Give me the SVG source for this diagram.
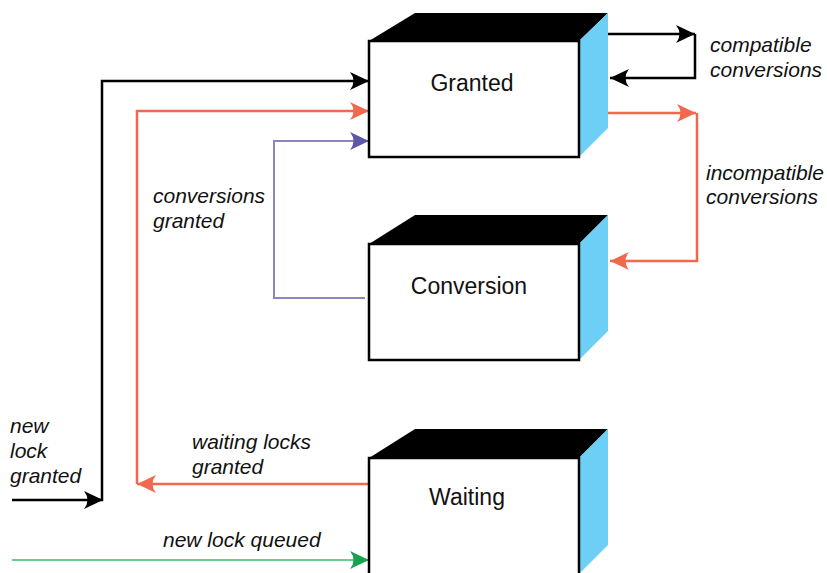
<svg xmlns="http://www.w3.org/2000/svg" width="827" height="573" viewBox="0 0 827 573">
<style>
.front{fill:#fff;stroke:#000;stroke-width:2.5}
.top{fill:#000}
.side{fill:#6DCFF6}
.name{font-family:"Liberation Sans",Arial,sans-serif;font-size:23px;fill:#111;text-anchor:middle}
.lbl{font-family:"Liberation Sans",Arial,sans-serif;font-size:21px;font-style:italic;fill:#111}
.c{fill:none}
.k{stroke:#000;stroke-width:2.5}
.o{stroke:#F0694E;stroke-width:2.5}
.p{stroke:#8A86C6;stroke-width:2}
.g{stroke:#6CCB8C;stroke-width:2}
</style>
<defs>
<marker id="ak" viewBox="0 0 20 20" refX="19" refY="10" markerWidth="20" markerHeight="20" markerUnits="userSpaceOnUse" orient="auto"><path d="M19,10 L0,1 Q7,10 0,19 Z" fill="#000"/></marker>
<marker id="ao" viewBox="0 0 20 20" refX="19" refY="10" markerWidth="20" markerHeight="20" markerUnits="userSpaceOnUse" orient="auto"><path d="M19,10 L0,1 Q7,10 0,19 Z" fill="#F0694E"/></marker>
<marker id="ap" viewBox="0 0 20 20" refX="19" refY="10" markerWidth="20" markerHeight="20" markerUnits="userSpaceOnUse" orient="auto"><path d="M19,10 L0,1 Q7,10 0,19 Z" fill="#5B58A8"/></marker>
<marker id="ag" viewBox="0 0 20 20" refX="19" refY="10" markerWidth="20" markerHeight="20" markerUnits="userSpaceOnUse" orient="auto"><path d="M19,10 L0,1 Q7,10 0,19 Z" fill="#1AA150"/></marker>
</defs>
<g id="connectors" class="c">
<path class="k" d="M12,500 H103" marker-end="url(#ak)"/>
<path class="k" d="M102,501 V81 H369" marker-end="url(#ak)"/>
<path class="o" d="M369,484 H137" marker-end="url(#ao)"/>
<path class="o" d="M137,484 V111 H369" marker-end="url(#ao)"/>
<path class="p" d="M365,298 H274 V141 H369" marker-end="url(#ap)"/>
<path class="k" d="M608,34 H695" marker-end="url(#ak)"/>
<path class="k" d="M695,34 V78 H610" marker-end="url(#ak)"/>
<path class="o" d="M608,113 H696" marker-end="url(#ao)"/>
<path class="o" d="M697,113 V261 H610" marker-end="url(#ao)"/>
<path class="g" d="M12,560 H369" marker-end="url(#ag)"/>
</g>
<g id="granted">
<polygon class="top" points="369,41 415,13 608,13 579,41"/>
<polygon class="side" points="579,41 608,13 608,128 579,157"/>
<rect class="front" x="369" y="41" width="210" height="116"/>
<text class="name" x="472" y="91">Granted</text>
</g>
<g id="conversion">
<polygon class="top" points="369,244 415,215 608,215 579,244"/>
<polygon class="side" points="579,244 608,215 608,331 579,360"/>
<rect class="front" x="369" y="244" width="210" height="116"/>
<text class="name" x="469" y="294">Conversion</text>
</g>
<g id="waiting">
<polygon class="top" points="369,458 415,429 608,429 579,458"/>
<polygon class="side" points="579,458 608,429 608,545 579,574"/>
<rect class="front" x="369" y="458" width="210" height="120"/>
<text class="name" x="467" y="505">Waiting</text>
</g>
<g id="labels">
<text class="lbl" x="710" y="52">compatible</text>
<text class="lbl" x="710" y="77">conversions</text>
<text class="lbl" x="706" y="180">incompatible</text>
<text class="lbl" x="706" y="204">conversions</text>
<text class="lbl" x="153" y="203">conversions</text>
<text class="lbl" x="153" y="228">granted</text>
<text class="lbl" x="192" y="449">waiting locks</text>
<text class="lbl" x="192" y="474">granted</text>
<text class="lbl" x="10" y="433">new</text>
<text class="lbl" x="10" y="458">lock</text>
<text class="lbl" x="10" y="483">granted</text>
<text class="lbl" x="163" y="547">new lock queued</text>
</g>
</svg>
